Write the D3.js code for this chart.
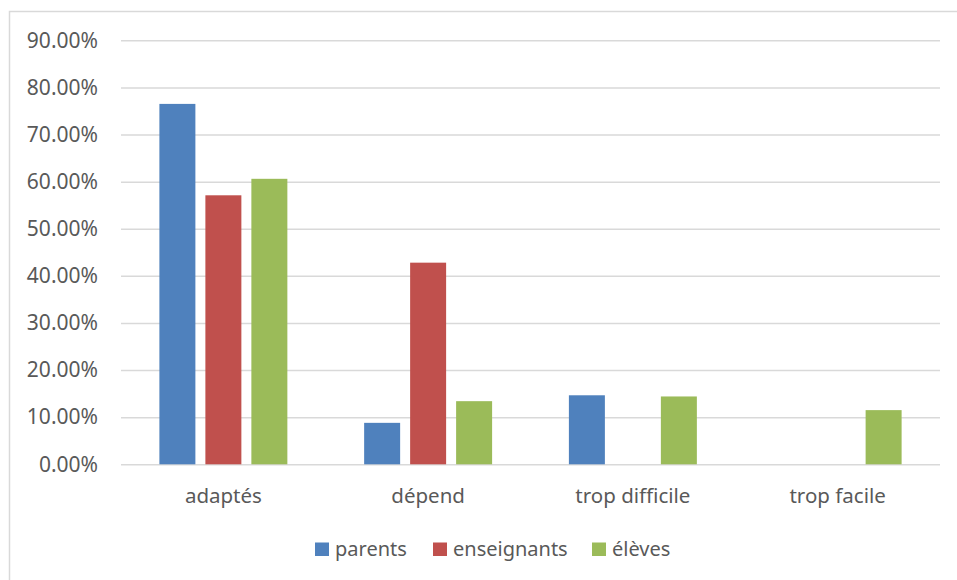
<!DOCTYPE html>
<html>
<head>
<meta charset="utf-8">
<script src="https://cdn.jsdelivr.net/npm/d3@7"></script>
<style>
  html, body { margin: 0; padding: 0; background: #fff; }
  svg { display: block; font-family: "Noto Sans", sans-serif; }
</style>
</head>
<body>
<svg id="chart" width="957" height="580"></svg>
<script>
// Response categories and series
const categories = ["adaptés", "dépend", "trop difficile", "trop facile"];
const seriesNames = ["parents", "enseignants", "élèves"];
const parents = [0.765, 0.088, 0.1465, null];
const enseignants = [0.571, 0.428, null, null];
const eleves = [0.606, 0.134, 0.144, 0.115];
const yTicks = [0, 0.1, 0.2, 0.3, 0.4, 0.5, 0.6, 0.7, 0.8, 0.9];
const colors = ["#4F81BD", "#C0504D", "#9BBB59"];

const seriesValues = [parents, enseignants, eleves];
const rows = categories.map((c, i) => ({
  category: c,
  values: seriesNames.map((s, j) => ({ series: s, value: seriesValues[j][i] }))
}));

const svg = d3.select("#chart");
const textColor = "#595959";
const gridColor = "#d9d9d9";

// Chart area outline (left and top edges visible)
svg.append("rect")
  .attr("x", 9.5).attr("y", 11.5)
  .attr("width", 980).attr("height", 600)
  .attr("fill", "#fff")
  .attr("stroke", gridColor)
  .attr("stroke-width", 1.5);

const plot = { left: 121, right: 940, top: 40.3, bottom: 464.3 };

const y = d3.scaleLinear().domain([0, 0.9]).range([plot.bottom, plot.top]);
const x0 = d3.scaleBand().domain(categories)
  .range([plot.left, plot.right])
  .paddingInner(0.375).paddingOuter(0.1875);
const x1 = d3.scaleBand().domain(seriesNames)
  .range([0, x0.bandwidth()])
  .paddingInner(0.2174).paddingOuter(0);
const color = d3.scaleOrdinal().domain(seriesNames).range(colors);

// Horizontal gridlines and y labels
const yAxis = d3.axisLeft(y)
  .tickValues(yTicks)
  .tickSize(-(plot.right - plot.left))
  .tickPadding(23)
  .tickFormat(d => d3.format(".2f")(d * 100) + "%");

const gy = svg.append("g")
  .attr("transform", `translate(${plot.left},0)`)
  .call(yAxis);
gy.select(".domain").remove();
gy.selectAll(".tick line").attr("stroke", gridColor).attr("stroke-width", 1.5);
gy.selectAll(".tick text")
  .attr("fill", textColor)
  .style("font-size", "21px")
  .style("font-family", "'Noto Sans', sans-serif");

// Bars
const groups = svg.append("g").selectAll("g")
  .data(rows)
  .join("g")
  .attr("transform", d => `translate(${x0(d.category)},0)`);

groups.selectAll("rect")
  .data(d => d.values.filter(v => v.value != null))
  .join("rect")
  .attr("x", d => x1(d.series))
  .attr("width", x1.bandwidth())
  .attr("y", d => y(d.value))
  .attr("height", d => y(0) - y(d.value))
  .attr("fill", d => color(d.series));

// Category axis
const xAxis = d3.axisBottom(x0).tickSize(0).tickPadding(24);
const gx = svg.append("g")
  .attr("transform", `translate(0,${plot.bottom})`)
  .call(xAxis);
gx.select(".domain").remove();
gx.selectAll(".tick text")
  .attr("fill", textColor)
  .style("font-size", "20.5px")
  .style("font-family", "'Noto Sans', sans-serif");

// Legend
const legendItems = [
  { name: "parents", x: 315 },
  { name: "enseignants", x: 433 },
  { name: "élèves", x: 592 }
];
const legend = svg.append("g");
const li = legend.selectAll("g")
  .data(legendItems)
  .join("g")
  .attr("transform", d => `translate(${d.x},0)`);
li.append("rect")
  .attr("x", 0).attr("y", 542.5)
  .attr("width", 14).attr("height", 13.5)
  .attr("fill", d => color(d.name));
li.append("text")
  .attr("x", 20).attr("y", 556)
  .attr("fill", textColor)
  .style("font-size", "20px")
  .text(d => d.name);
</script>
</body>
</html>
